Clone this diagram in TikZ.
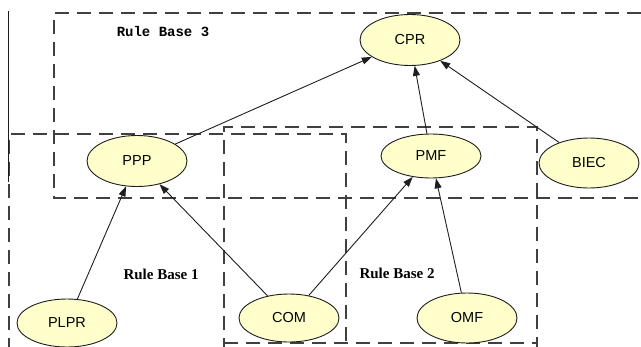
\documentclass[tikz,border=0pt]{standalone}
\usepackage{fontspec}
\setmainfont{Liberation Serif}
\setsansfont{Liberation Sans}
\setmonofont{Liberation Mono}
\usetikzlibrary{shapes.geometric,arrows.meta}
\definecolor{nodefill}{RGB}{255,255,204}
\definecolor{ink}{RGB}{30,30,30}
\tikzset{
  x=1pt, y=-1pt,
  concept/.style={ellipse, draw=ink, line width=0.9pt, fill=nodefill,
    minimum width=100pt, minimum height=48pt, inner sep=0pt,
    font=\sffamily\fontsize{14.5}{16}\selectfont},
  rulebox/.style={draw=ink!85, line width=1.2pt, dash pattern=on 14pt off 8pt},
  link/.style={draw=ink, line width=0.9pt, -{Triangle[length=10pt,width=7pt]}},
  rblabel/.style={font=\bfseries\fontsize{15}{17}\selectfont},
}
\begin{document}
\begin{tikzpicture}
\useasboundingbox (0,0) rectangle (641,346);

% rule base frames
\draw[rulebox] (641,13) -- (54,13) -- (54,198) -- (641,198);
\draw[rulebox] (9,352) -- (9,134) -- (346,134) -- (346,352);
\draw[rulebox] (224,352) -- (224,127) -- (537,127) -- (537,352);
\draw[rulebox] (224,343) -- (537,343);
\draw[ink, line width=1pt] (8,11) -- (8,182);

% frame labels
\node[font=\ttfamily\bfseries\fontsize{14}{16}\selectfont] (rb3) at (163,32) {Rule Base 3};
\node[rblabel] (rb1) at (161,274) {Rule Base 1};
\node[rblabel] (rb2) at (397,273) {Rule Base 2};

% concepts
\node[concept, minimum height=51pt] (cpr) at (410,40) {CPR};
\node[concept, minimum height=51pt] (ppp) at (137,161) {PPP};
\node[concept, minimum height=44pt] (pmf) at (431,156) {PMF};
\node[concept, minimum height=50pt] (biec) at (589,163) {BIEC};
\node[concept, minimum height=48pt] (plpr) at (67,323) {PLPR};
\node[concept, minimum height=48pt] (com) at (289,318) {COM};
\node[concept, minimum height=50pt] (omf) at (467,318) {OMF};

% influences
\draw[link] (ppp) -- (cpr);
\draw[link] (pmf) -- (cpr);
\draw[link] (biec) -- (cpr);
\draw[link] (plpr) -- (ppp);
\draw[link] (com) -- (ppp);
\draw[link] (com) -- (pmf);
\draw[link] (omf) -- (pmf);
\end{tikzpicture}
\end{document}
